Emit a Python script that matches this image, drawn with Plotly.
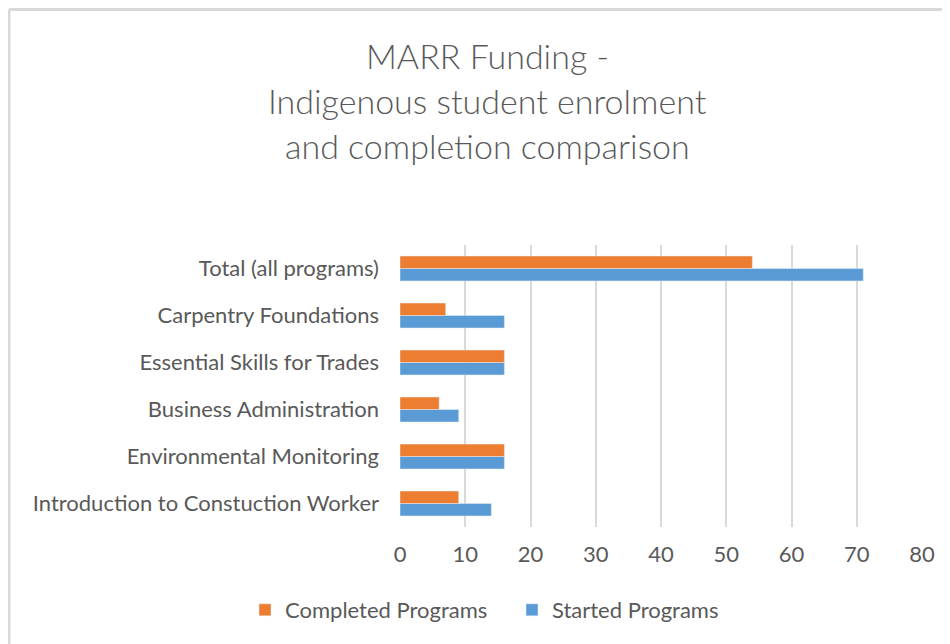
import plotly.graph_objects as go

categories = [
    "Introduction to Constuction Worker",
    "Environmental Monitoring",
    "Business Administration",
    "Essential Skills for Trades",
    "Carpentry Foundations",
    "Total (all programs)",
]
completed = [9, 16, 6, 16, 7, 54]
started = [14, 16, 9, 16, 16, 71]
x_ticks = [0, 10, 20, 30, 40, 50, 60, 70, 80]
title_lines = ["MARR Funding -", "Indigenous student enrolment", "and completion comparison"]

ORANGE = "#ED7D31"
BLUE = "#5B9BD5"
TXT = "#595959"
FONT = "Lato"

W, H = 950, 644
OFF = 8  # page body margin offset
ML, MT = 400 - OFF, 245 - OFF
PW, PH = 522, 282
MR = W - ML - PW
MB = H - MT - PH

def px_x(px):
    return (px - OFF - ML) / PW

def px_y(py):
    return (MT + PH - (py - OFF)) / PH

fig = go.Figure()
fig.add_trace(go.Bar(y=categories, x=started, orientation="h", name="Started Programs",
                     marker=dict(color=BLUE), legendrank=2))
fig.add_trace(go.Bar(y=categories, x=completed, orientation="h", name="Completed Programs",
                     marker=dict(color=ORANGE), legendrank=1))

annotations = []
for i, t in enumerate(title_lines):
    annotations.append(dict(text=t, x=px_x(487), y=px_y(55 + 45 * i), xref="paper", yref="paper",
                            xanchor="center", yanchor="middle", showarrow=False,
                            font=dict(family=FONT, size=34, color=TXT, weight=300)))

shapes = [
    dict(type="line", xref="paper", yref="paper", x0=px_x(9), x1=px_x(980), y0=px_y(9.5), y1=px_y(9.5),
         line=dict(color="#D9D9D9", width=3)),
    dict(type="line", xref="paper", yref="paper", x0=px_x(9), x1=px_x(9), y0=px_y(9.5), y1=px_y(680),
         line=dict(color="#D9D9D9", width=3)),
]

fig.update_layout(
    width=W, height=H,
    margin=dict(l=ML, r=MR, t=MT, b=MB),
    paper_bgcolor="white", plot_bgcolor="white",
    barmode="group", bargap=0.47, bargroupgap=0,
    font=dict(family=FONT, color=TXT, size=22),
    showlegend=True,
    legend=dict(orientation="h", x=px_x(245), y=px_y(610), xanchor="left", yanchor="middle",
                font=dict(family=FONT, size=22, color=TXT), itemwidth=30, tracegroupgap=0,
                entrywidth=222, entrywidthmode="pixels"),
    annotations=annotations,
    shapes=shapes,
)
fig.update_xaxes(range=[0, 80], tickvals=x_ticks, showgrid=True, gridcolor="#D9D9D9", gridwidth=1.5,
                 zeroline=False, showline=False, ticks="", tickfont=dict(size=22, color=TXT),
                 ticklabelstandoff=12, fixedrange=True)
fig.update_yaxes(showgrid=False, showline=False, ticks="", tickfont=dict(size=22, color=TXT),
                 ticklabelstandoff=20, fixedrange=True)

fig.write_html("out.html")
